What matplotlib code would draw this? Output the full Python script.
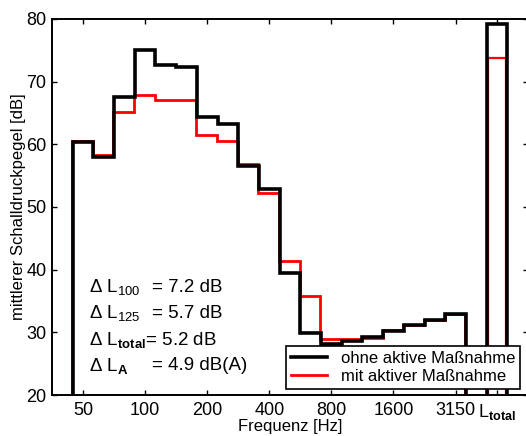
import numpy as np
import matplotlib.pyplot as plt

plt.rcParams['font.family'] = ['Liberation Sans', 'DejaVu Sans']
plt.rcParams['mathtext.fontset'] = 'custom'
plt.rcParams['mathtext.rm'] = 'Liberation Sans'
plt.rcParams['mathtext.it'] = 'Liberation Sans'
plt.rcParams['mathtext.bf'] = 'Liberation Sans:bold'

# third octave bands
bands = ['50', '63', '80', '100', '125', '160', '200', '250', '315', '400', '500',
         '630', '800', '1000', '1250', '1600', '2000', '2500', '3150']
ohne = [60.3, 57.9, 67.5, 75.1, 72.7, 72.4, 64.4, 63.2, 56.6, 52.9, 39.5,
        29.9, 28.1, 28.6, 29.2, 30.2, 31.1, 32.0, 32.9]
mit = [60.6, 58.3, 65.1, 67.9, 67.1, 67.1, 61.5, 60.6, 56.8, 52.3, 41.4,
       35.8, 28.9, 28.9, 29.1, 30.4, 31.1, 32.0, 32.9]
ltotal_ohne = 79.2
ltotal_mit = 73.8

tick_labels = ['50', '100', '200', '400', '800', '1600', '3150', r'L$_{\mathbf{total}}$']
delta_names = [r'$\Delta$ L$_{100}$', r'$\Delta$ L$_{125}$', r'$\Delta$ L$_{\mathbf{total}}$', r'$\Delta$ L$_{\mathbf{A}}$']
delta_values = ['= 7.2 dB', '= 5.7 dB', '= 5.2 dB', '= 4.9 dB(A)']

fig = plt.figure(figsize=(5.26, 4.36), dpi=100)
ax = fig.add_axes([52/526, 1-395/436, 476/526, 376/436])

n = len(bands)
edges = np.arange(n + 1) - 0.5
tot_edges = [19.5, 20.5]

ax.stairs(mit, edges - 0.03, baseline=20, color='red', lw=2.0)
ax.stairs([ltotal_mit], [19.55, 20.45], baseline=20, color='red', lw=1.6)
ax.stairs(ohne, edges, baseline=20, color='black', lw=2.6)
ax.stairs([ltotal_ohne], tot_edges, baseline=20, color='black', lw=2.6)

# legend handles
ax.plot([], [], color='black', lw=2.6, label='ohne aktive Maßnahme')
ax.plot([], [], color='red', lw=2.0, label='mit aktiver Maßnahme')

ax.set_xlim(-1.5, 21.5)
ax.set_ylim(20, 80)
ax.set_xticks([0, 3, 6, 9, 12, 15, 18, 20])
ax.set_xticklabels(tick_labels)
ax.set_yticks(np.arange(20, 81, 10))
ax.tick_params(direction='in', length=3.5, width=1, top=True, right=True, labelsize=13, pad=4)
ax.tick_params(axis='x', pad=5)
for s in ax.spines.values():
    s.set_linewidth(1.4)

ax.set_xlabel('Frequenz [Hz]', fontsize=12, labelpad=-2)
ax.set_ylabel('mittlerer Schalldruckpegel [dB]', fontsize=12, labelpad=0)

ys = [287, 313, 340, 366]
for i in range(4):
    yd = 80 - (ys[i] - 19) / 376 * 60
    if i == 2:
        ax.text(0.3, yd, delta_names[i] + delta_values[i], fontsize=13.5, va='center')
    else:
        ax.text(0.3, yd, delta_names[i], fontsize=13.5, va='center')
        ax.text(3.35, yd, delta_values[i], fontsize=13.5, va='center')

leg = ax.legend(loc='lower right', bbox_to_anchor=(0.983, 0.016), borderaxespad=0,
                fontsize=12, frameon=True, fancybox=False, edgecolor='black', framealpha=1,
                handlelength=2.2, borderpad=0.3, labelspacing=0.2, handletextpad=0.8)
leg.get_frame().set_linewidth(1.2)

fig.savefig('out.png')
